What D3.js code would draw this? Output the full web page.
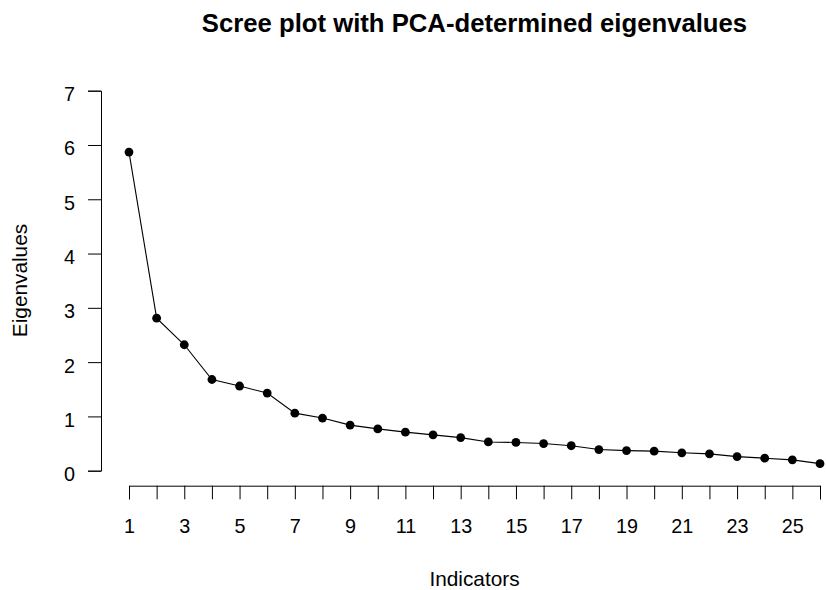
<!DOCTYPE html>
<html>
<head>
<meta charset="utf-8">
<script src="https://cdn.jsdelivr.net/npm/d3@7"></script>
<style>
  html, body { margin: 0; padding: 0; background: #fff; }
  svg { display: block; font-family: "Liberation Sans", Arial, sans-serif; }
</style>
</head>
<body>
<svg id="chart" width="826" height="590"></svg>
<script>
// Component numbers and their eigenvalues
const components = d3.range(1, 27);
const eigenvalues = [5.87, 2.81, 2.32, 1.68, 1.56, 1.43, 1.06, 0.97, 0.84, 0.77,
                     0.71, 0.66, 0.61, 0.53, 0.52, 0.50, 0.46, 0.39, 0.37, 0.36,
                     0.33, 0.31, 0.26, 0.23, 0.20, 0.13];
const yTicks = [0, 1, 2, 3, 4, 5, 6, 7];
const titleText = "Scree plot with PCA-determined eigenvalues";
const xLabel = "Indicators";
const yLabel = "Eigenvalues";

const svg = d3.select("#chart");
const fs = 19.8;

const x = d3.scaleLinear().domain([1, 26]).range([129, 820]);
const y = d3.scaleLinear().domain([0, 7]).range([470.7, 90.7]);

// Bottom axis: a tick for every component, labels on odd ones
const xAxis = d3.axisBottom(x)
  .tickValues(components)
  .tickFormat(d => d % 2 ? d3.format("d")(d) : "")
  .tickSizeOuter(0)
  .tickSize(13.6);

const gx = svg.append("g")
  .attr("transform", "translate(0,485.7)")
  .call(xAxis);
gx.selectAll("text").attr("y", 0).attr("dy", 47.6);

// Left axis
const yAxis = d3.axisLeft(y)
  .tickValues(yTicks)
  .tickFormat(d3.format("d"))
  .tickSizeOuter(0)
  .tickSize(13)
  .tickPadding(13);

const gy = svg.append("g")
  .attr("transform", "translate(101,0)")
  .call(yAxis);
gy.selectAll("text").attr("dy", 10);

svg.selectAll(".tick text").attr("font-size", fs).attr("fill", "#000")
  .attr("font-family", "'Liberation Sans', Arial, sans-serif");
svg.selectAll(".domain, .tick line").attr("stroke", "#000").attr("stroke-width", 1);

// Connecting line and points
const line = d3.line()
  .x((d, i) => x(components[i]))
  .y(d => y(d));

svg.append("path")
  .datum(eigenvalues)
  .attr("fill", "none")
  .attr("stroke", "#000")
  .attr("stroke-width", 1.1)
  .attr("d", line);

svg.append("g")
  .selectAll("circle")
  .data(eigenvalues)
  .join("circle")
  .attr("cx", (d, i) => x(components[i]))
  .attr("cy", d => y(d))
  .attr("r", 4.4)
  .attr("fill", "#000");

// Title and axis labels
svg.append("text")
  .attr("x", 474.5)
  .attr("y", 32.3)
  .attr("text-anchor", "middle")
  .attr("font-size", 25.7)
  .attr("font-weight", "bold")
  .text(titleText);

svg.append("text")
  .attr("x", 474.5)
  .attr("y", 585.7)
  .attr("text-anchor", "middle")
  .attr("font-size", 20.8)
  .text(xLabel);

svg.append("text")
  .attr("transform", "translate(26.5,280.5) rotate(-90)")
  .attr("text-anchor", "middle")
  .attr("font-size", 20.8)
  .text(yLabel);
</script>
</body>
</html>
